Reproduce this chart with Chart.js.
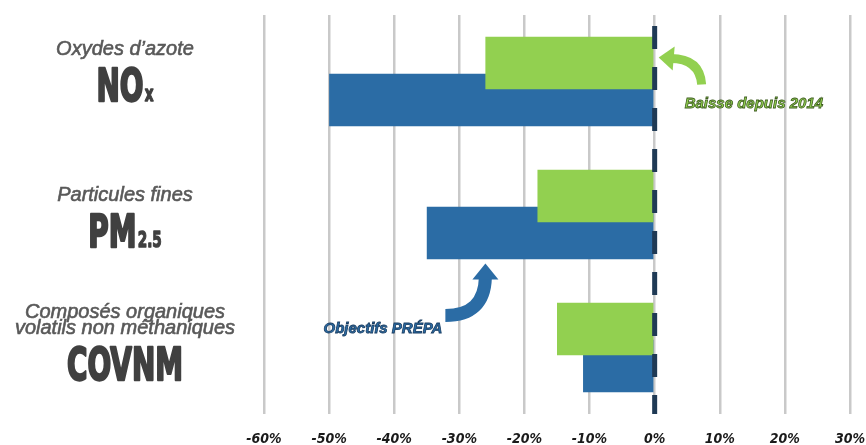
<!DOCTYPE html>
<html>
<head>
<meta charset="utf-8">
<script src="https://cdn.jsdelivr.net/npm/chart.js@4.4.1/dist/chart.umd.min.js"></script>
<style>
html, body { margin: 0; padding: 0; background: #fff; }
#wrap { width: 866px; height: 445px; }
</style>
</head>
<body>
<div id="wrap"><canvas id="chart"></canvas></div>
<script>
// data
const categories = ['NOx', 'PM2.5', 'COVNM']
const names = [['Oxydes d’azote'], ['Particules fines'], ['Composés organiques', 'volatils non méthaniques']]
const codes = ['NO', 'PM', 'COVNM']
const subs = ['x', '2.5', '']
const baisse2014 = [-26, -18, -15]
const objectifsPrepa = [-50, -35, -11]
const xMin = -60
const xMax = 30

const green = '#92d050'
const blue = '#2b6ca5'
const navy = '#1f3a55'
const gray = '#595959'
const darkGray = '#404040'

// left hand labels, drawn by hand because they mix fonts
const labelShift = [-11, 2, -6]
const labelsPlugin = {
    id: 'sideLabels',
    afterDraw(chart) {
        const ctx = chart.ctx
        const y = chart.scales.y
        const cx = 125
        const sx = 0.62
        ctx.save()
        categories.forEach((c, i) => {
            const lines = names[i]
            const h = 15 + (lines.length - 1) * 16 + 46
            const top = y.getPixelForValue(i) + labelShift[i] - h / 2
            ctx.textAlign = 'center'
            ctx.textBaseline = 'alphabetic'
            ctx.fillStyle = gray
            ctx.strokeStyle = gray
            ctx.lineWidth = 0.6
            ctx.font = 'italic 20px "Liberation Sans", Arial, sans-serif'
            lines.forEach((l, j) => {
                ctx.fillText(l, cx, top + 15 + j * 16)
                ctx.strokeText(l, cx, top + 15 + j * 16)
            })
            const base = top + 15 + (lines.length - 1) * 16 + 46
            // big condensed code with subscript
            const bigFont = 'bold 45px "DejaVu Sans", sans-serif'
            const subFont = 'bold 22px "DejaVu Sans", sans-serif'
            ctx.font = bigFont
            const w1 = ctx.measureText(codes[i]).width
            ctx.font = subFont
            const w2 = subs[i] ? ctx.measureText(subs[i]).width + 2 : 0
            const total = (w1 + w2) * sx
            ctx.save()
            ctx.translate(cx - total / 2, base)
            ctx.scale(sx, 1)
            ctx.textAlign = 'left'
            ctx.fillStyle = darkGray
            ctx.strokeStyle = darkGray
            ctx.lineWidth = 2.5
            ctx.lineJoin = 'round'
            ctx.font = bigFont
            ctx.fillText(codes[i], 0, 0)
            ctx.strokeText(codes[i], 0, 0)
            if (subs[i]) {
                ctx.font = subFont
                ctx.lineWidth = 1.4
                ctx.fillText(subs[i], w1 + 2, 0)
                ctx.strokeText(subs[i], w1 + 2, 0)
            }
            ctx.restore()
        })
        ctx.restore()
    }
}

// dashed zero line and the two arrow notes
const notesPlugin = {
    id: 'notes',
    afterDatasetsDraw(chart) {
        const ctx = chart.ctx
        const xs = chart.scales.x
        const ys = chart.scales.y
        const area = chart.chartArea
        const x0 = xs.getPixelForValue(0)
        ctx.save()
        ctx.strokeStyle = navy
        ctx.lineWidth = 5
        ctx.setLineDash([23, 18])
        ctx.lineDashOffset = 30
        ctx.beginPath()
        ctx.moveTo(x0, area.top)
        ctx.lineTo(x0, area.bottom)
        ctx.stroke()
        ctx.setLineDash([])

        // green arrow: Baisse depuis 2014
        const gy = ys.getPixelForValue(0)
        const gtx = x0 + 4, gty = gy - 24
        ctx.strokeStyle = green
        ctx.fillStyle = green
        ctx.lineWidth = 9
        ctx.beginPath()
        ctx.moveTo(gtx + 12, gty + 1)
        ctx.quadraticCurveTo(gtx + 41, gty + 1, gtx + 43, gty + 27)
        ctx.stroke()
        ctx.beginPath()
        ctx.moveTo(gtx, gty)
        ctx.lineTo(gtx + 16, gty - 11)
        ctx.lineTo(gtx + 14, gty + 13)
        ctx.closePath()
        ctx.fill()

        ctx.font = 'bold italic 15px "Liberation Sans", Arial, sans-serif'
        ctx.textAlign = 'left'
        ctx.textBaseline = 'alphabetic'
        ctx.lineWidth = 0.8
        ctx.strokeStyle = '#3e5c20'
        ctx.fillText('Baisse depuis 2014', x0 + 30, gy + 26)
        ctx.strokeText('Baisse depuis 2014', x0 + 30, gy + 26)

        // blue arrow: Objectifs PRÉPA
        const by = ys.getPixelForValue(1)
        const btx = xs.getPixelForValue(-26), bty = by + 49
        ctx.strokeStyle = blue
        ctx.fillStyle = blue
        ctx.lineWidth = 13
        ctx.beginPath()
        ctx.moveTo(btx, bty + 14)
        ctx.quadraticCurveTo(btx - 1, bty + 52, btx - 40, bty + 52)
        ctx.stroke()
        ctx.beginPath()
        ctx.moveTo(btx, bty)
        ctx.lineTo(btx + 13, bty + 16)
        ctx.lineTo(btx - 13, bty + 16)
        ctx.closePath()
        ctx.fill()

        ctx.font = 'bold italic 15px "Liberation Sans", Arial, sans-serif'
        ctx.textAlign = 'right'
        ctx.lineWidth = 0.8
        ctx.strokeStyle = '#173a5e'
        ctx.fillText('Objectifs PRÉPA', btx - 43, by + 118)
        ctx.strokeText('Objectifs PRÉPA', btx - 43, by + 118)
        ctx.restore()
    }
}

const chartData = {
    labels: categories,
    datasets: [
        {
            label: 'Baisse depuis 2014',
            data: baisse2014,
            backgroundColor: green,
            borderWidth: 0,
        },
        {
            label: 'Objectifs PRÉPA',
            data: objectifsPrepa,
            backgroundColor: blue,
            borderWidth: 0,
        }
    ]
}

new Chart('chart', {
    type: 'bar',
    data: chartData,
    options: {
        indexAxis: 'y',
        responsive: true,
        maintainAspectRatio: false,
        animation: false,
        categoryPercentage: 0.556,
        barPercentage: 1.42,
        layout: { padding: { left: 264, right: 4, top: 15, bottom: 0 } },
        plugins: {
            legend: { display: false },
            tooltip: { enabled: false }
        },
        scales: {
            x: {
                min: xMin,
                max: xMax,
                afterFit: s => {
                    s.height = 31
                    s.paddingLeft = 0
                    s.paddingRight = 16
                },
                ticks: {
                    stepSize: 10,
                    padding: 17,
                    color: '#1a1a1a',
                    font: { family: '"DejaVu Sans Condensed", "DejaVu Sans"', size: 14, weight: 'bold', style: 'italic' },
                    callback: v => v + '%'
                },
                grid: { color: '#c9c9c9', lineWidth: 2.5, drawTicks: false },
                border: { display: false }
            },
            y: {
                display: false
            }
        }
    },
    plugins: [labelsPlugin, notesPlugin]
})
</script>
</body>
</html>
